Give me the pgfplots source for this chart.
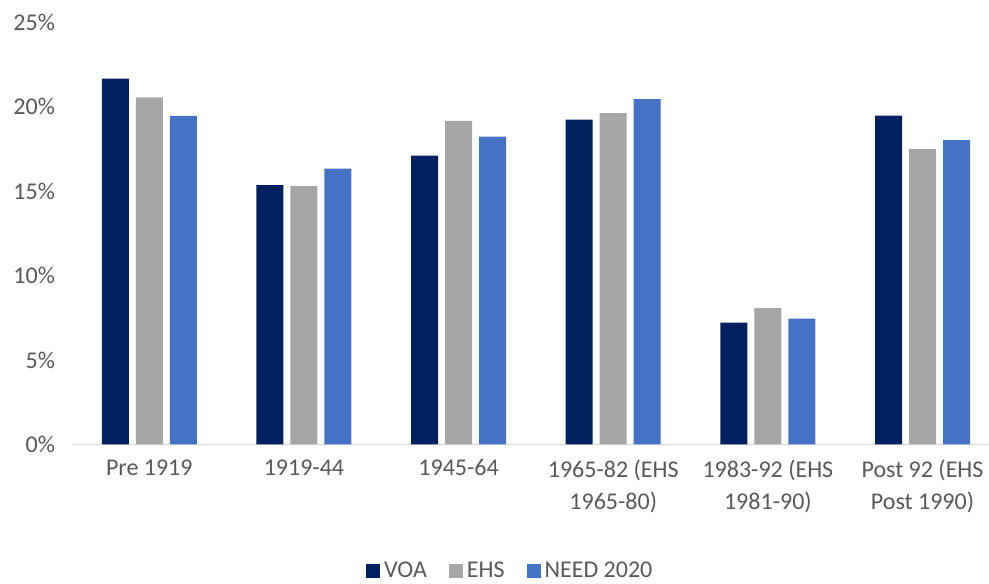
\documentclass[border=0pt]{standalone}
\usepackage{pgfplots}
\pgfplotsset{compat=1.18}
\usepackage{fontspec}
\setmainfont{Carlito}

\definecolor{voa}{HTML}{002060}
\definecolor{ehs}{HTML}{A6A6A6}
\definecolor{need}{HTML}{4472C4}
\definecolor{txt}{HTML}{595959}
\definecolor{axln}{HTML}{D9D9D9}

\begin{document}
\begin{tikzpicture}
\useasboundingbox (0,0) rectangle (494.5pt,291.5pt);
\begin{axis}[
  at={(36pt,69.25pt)}, anchor=south west,
  scale only axis,
  width=458.5pt, height=211.1pt,
  ybar=3.5pt, bar width=13.5pt,
  xmin=-0.5, xmax=5.43,
  ymin=0, ymax=25,
  ytick={0,5,10,15,20,25},
  yticklabel={\pgfmathprintnumber{\tick}\%},
  /pgf/number format/assume math mode=true,
  xtick={0,1,2,3,4,5},
  xticklabels={Pre 1919, 1919-44, 1945-64, {1965-82 (EHS\\1965-80)}, {1983-92 (EHS\\1981-90)}, {Post 92 (EHS\\Post 1990)}},
  xticklabel style={align=center, font=\fontsize{12}{16}\selectfont, text=txt, yshift=-4pt},
  yticklabel style={font=\fontsize{12}{14}\selectfont, text=txt, xshift=-5pt},
  major tick length=0pt,
  axis x line*=bottom, axis y line*=left,
  y axis line style={draw=none},
  x axis line style={draw=axln, line width=0.8pt},
  legend columns=-1,
  legend style={at={(0.479,-0.30)}, anchor=center, draw=none,
    font=\fontsize{12}{14}\selectfont, text=txt,
    /tikz/every even column/.append style={column sep=9pt}},
  legend image code/.code={\path[#1, draw=none] (0pt,-3.5pt) rectangle (7pt,3.5pt);},
]
\addplot[fill=voa, draw=none] coordinates {(0,21.67) (1,15.36) (2,17.11) (3,19.24) (4,7.22) (5,19.48)};
\addplot[fill=ehs, draw=none] coordinates {(0,20.55) (1,15.30) (2,19.16) (3,19.62) (4,8.07) (5,17.49)};
\addplot[fill=need, draw=none] coordinates {(0,19.46) (1,16.34) (2,18.23) (3,20.45) (4,7.46) (5,18.02)};
\legend{VOA, EHS, NEED 2020}
\end{axis}
\end{tikzpicture}
\end{document}
